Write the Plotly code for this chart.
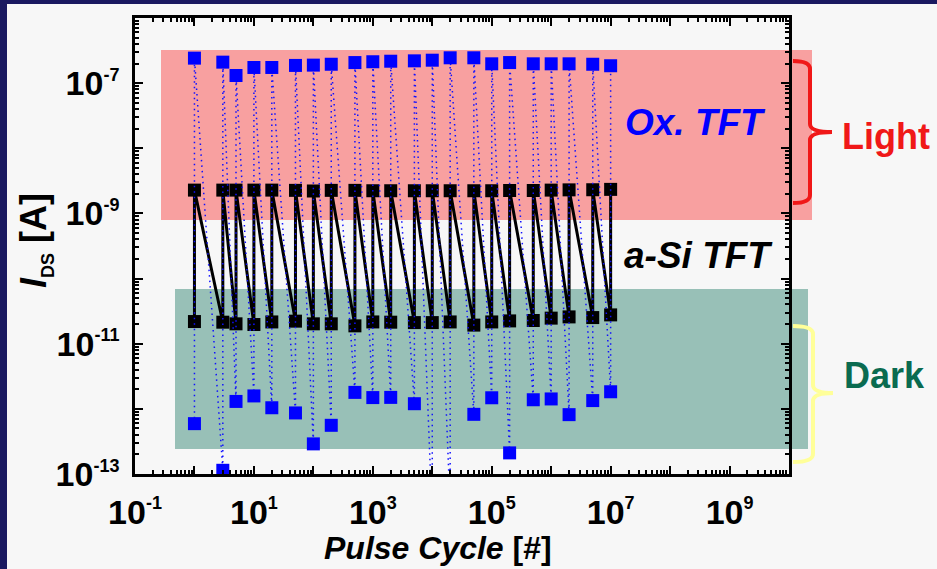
import plotly.graph_objects as go

# Pulse cycles at which the TFTs were read out
cycles = [1, 3, 5, 10, 20, 50, 100, 200, 500, 1e3, 2e3, 5e3, 1e4, 2e4, 5e4,
          1e5, 2e5, 5e5, 1e6, 2e6, 5e6, 1e7]

# a-Si TFT drain current under illumination / in the dark [A]
asi_light = [2.28e-9, 2.28e-9, 2.28e-9, 2.28e-9, 2.28e-9, 2.26e-9, 2.21e-9, 2.26e-9,
             2.26e-9, 2.23e-9, 2.23e-9, 2.23e-9, 2.23e-9, 2.23e-9, 2.23e-9, 2.23e-9,
             2.25e-9, 2.25e-9, 2.28e-9, 2.30e-9, 2.31e-9, 2.34e-9]
asi_dark = [2.19e-11, 2.14e-11, 2.02e-11, 1.97e-11, 2.16e-11, 2.22e-11, 2.02e-11, 2.02e-11,
            1.88e-11, 2.16e-11, 2.14e-11, 2.11e-11, 2.11e-11, 2.16e-11, 1.93e-11, 2.16e-11,
            2.24e-11, 2.27e-11, 2.47e-11, 2.58e-11, 2.52e-11, 2.77e-11]

# Oxide TFT drain current under illumination / in the dark [A]
ox_light = [2.42e-7, 2.10e-7, 1.31e-7, 1.74e-7, 1.74e-7, 1.87e-7, 1.89e-7, 1.95e-7,
            2.07e-7, 2.13e-7, 2.17e-7, 2.20e-7, 2.25e-7, 2.45e-7, 2.45e-7, 1.98e-7,
            2.07e-7, 1.98e-7, 1.98e-7, 1.98e-7, 1.95e-7, 1.85e-7]
ox_dark = [5.93e-13, 1.14e-13, 1.30e-12, 1.58e-12, 1.04e-12, 8.66e-13, 2.90e-13, 5.59e-13,
           1.79e-12, 1.49e-12, 1.50e-12, 1.20e-12, 2.0e-14, 3.0e-14, 8.24e-13, 1.48e-12,
           2.11e-13, 1.38e-12, 1.42e-12, 8.15e-13, 1.34e-12, 1.83e-12]

x_decades = list(range(-1, 11))
y_decades = list(range(-13, -5))

W, H = 937, 569
ML, MR, MT, MB = 135, 148, 18, 95
PW, PH = W - ML - MR, H - MT - MB

FONT = "Arial, 'Liberation Sans', sans-serif"
NAVY = "#1A1960"
BG = "#F7F7F7"


def px(x):
    return (x - ML) / PW


def py(y):
    return (H - MB - y) / PH


def sequence(dark, light):
    # each cycle: dark read, then light read
    xs, ys = [], []
    for c, d, l in zip(cycles, dark, light):
        xs += [c, c]
        ys += [d, l]
    return xs, ys


def sup_label(k):
    return f"10<sup><span style='font-size:18px'>{k}</span></sup>"


fig = go.Figure()

xa, ya = sequence(asi_dark, asi_light)
fig.add_trace(go.Scatter(
    x=xa, y=ya, mode="lines+markers",
    line=dict(color="black", width=3),
    marker=dict(symbol="square", size=13, color="black"),
    showlegend=False, hoverinfo="skip"))

xo, yo = sequence(ox_dark, ox_light)
fig.add_trace(go.Scatter(
    x=xo, y=yo, mode="lines+markers",
    line=dict(color="#1010FF", width=1.5, dash="1.5px,4px"),
    marker=dict(symbol="square", size=13, color="#0000FF"),
    showlegend=False, hoverinfo="skip"))

x_minor = [m * 10 ** k for k in x_decades[:-1] for m in range(2, 10)]
y_minor = [m * 10 ** k for k in y_decades[:-1] for m in range(2, 10)]

axis_common = dict(
    type="log", showgrid=False, zeroline=False,
    showline=True, linecolor="black", linewidth=2.5, mirror="ticks",
    ticks="inside", ticklen=8, tickwidth=2, tickcolor="black",
    tickfont=dict(family=FONT, size=34, color="black", weight="bold"),
)

fig.update_xaxes(
    **axis_common,
    range=[-1, 10],
    tickmode="array",
    tickvals=[10 ** k for k in x_decades],
    ticktext=[sup_label(k) if k % 2 else "" for k in x_decades],
    ticklabelstandoff=6,
    minor=dict(tickmode="array", tickvals=x_minor, ticks="inside",
               ticklen=4, tickwidth=1.5, tickcolor="black"),
)
fig.update_yaxes(
    **axis_common,
    range=[-13, -6],
    tickmode="array",
    tickvals=[10 ** k for k in y_decades],
    ticktext=[sup_label(k) if k % 2 else "" for k in y_decades],
    ticklabelstandoff=6,
    minor=dict(tickmode="array", tickvals=y_minor, ticks="inside",
               ticklen=4, tickwidth=1.5, tickcolor="black"),
)

shapes = [
    # frame strips
    dict(type="rect", xref="paper", yref="paper", x0=px(0), x1=px(7), y0=py(0), y1=py(H),
         fillcolor=NAVY, line_width=0, layer="below"),
    dict(type="rect", xref="paper", yref="paper", x0=px(0), x1=px(W), y0=py(0), y1=py(4),
         fillcolor=NAVY, line_width=0, layer="below"),
    # illuminated band
    dict(type="rect", xref="paper", yref="paper", x0=px(161), x1=px(812), y0=py(50), y1=py(220),
         fillcolor="#F8A0A0", line_width=0, layer="below"),
    # dark band
    dict(type="rect", xref="paper", yref="paper", x0=px(175), x1=px(808), y0=py(289), y1=py(449),
         fillcolor="#98C0B7", line_width=0, layer="below"),
]


def brace(x_hook, x_bar, x_tip, top, mid, bottom, r=8):
    pts = [
        f"M {px(x_hook)},{py(top)}",
        f"Q {px(x_bar)},{py(top)} {px(x_bar)},{py(top + r)}",
        f"L {px(x_bar)},{py(mid - r)}",
        f"Q {px(x_bar)},{py(mid)} {px(x_tip)},{py(mid)}",
        f"M {px(x_tip)},{py(mid)}",
        f"Q {px(x_bar)},{py(mid)} {px(x_bar)},{py(mid + r)}",
        f"L {px(x_bar)},{py(bottom - r)}",
        f"Q {px(x_bar)},{py(bottom)} {px(x_hook)},{py(bottom)}",
    ]
    return " ".join(pts)


shapes.append(dict(type="path", xref="paper", yref="paper",
                   path=brace(793, 810, 832, 61, 132, 203),
                   line=dict(color="#F01818", width=4)))
shapes.append(dict(type="path", xref="paper", yref="paper",
                   path=brace(793, 813, 833, 326, 393, 462),
                   line=dict(color="#FFFF99", width=4)))

annotations = [
    dict(text="<b><i>Ox. TFT</i></b>", x=px(695), y=py(122),
         font=dict(family=FONT, size=37, color="#0000FF")),
    dict(text="<b><i>a-Si TFT</i></b>", x=px(698), y=py(255),
         font=dict(family=FONT, size=37, color="black")),
    dict(text="<b>Light</b>", x=px(886), y=py(136),
         font=dict(family=FONT, size=36, color="#F01818")),
    dict(text="<b>Dark</b>", x=px(884), y=py(375),
         font=dict(family=FONT, size=36, color="#0A6B50")),
    dict(text="<b><i>I</i><sub><span style='font-size:18px'>DS</span></sub> [A]</b>",
         x=px(35), y=py(241), textangle=-90,
         font=dict(family=FONT, size=36, color="black")),
    dict(text="<b><i>Pulse Cycle</i> [#]</b>", x=px(438), y=py(548),
         font=dict(family=FONT, size=32, color="black")),
]
for a in annotations:
    a.update(xref="paper", yref="paper", xanchor="center", yanchor="middle",
             showarrow=False)

fig.update_layout(
    width=W, height=H,
    margin=dict(l=ML, r=MR, t=MT, b=MB, pad=0),
    paper_bgcolor=BG, plot_bgcolor=BG,
    shapes=shapes, annotations=annotations,
    showlegend=False,
)

fig.write_html("out.html")
